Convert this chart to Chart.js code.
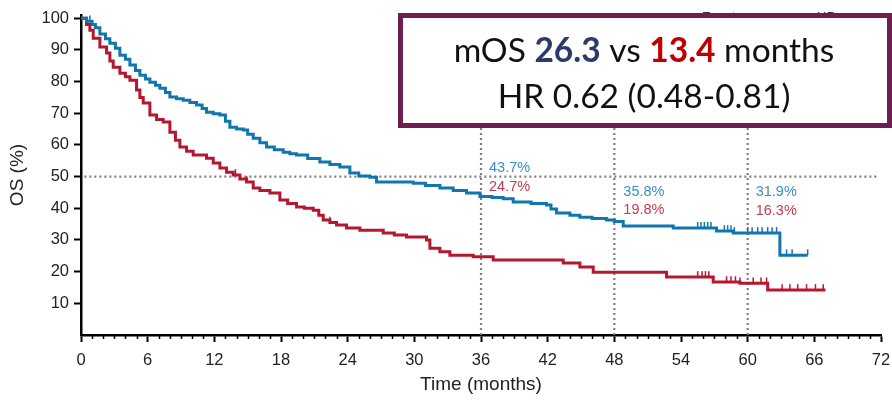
<!DOCTYPE html>
<html>
<head>
<meta charset="utf-8">
<script src="https://cdn.jsdelivr.net/npm/chart.js@4/dist/chart.umd.min.js"></script>
<style>
  html, body { margin: 0; padding: 0; background: #fff; }
  #wrap { width: 892px; height: 402px; position: relative; }
</style>
</head>
<body>
<div id="wrap"><canvas id="c" width="892" height="402"></canvas></div>
<script>
// ---- Data ----
const blueTimes = [0,0.5,1,1.3,1.7,2.2,2.6,3.1,3.5,4,4.4,4.9,5.3,5.8,6.2,6.7,7.1,7.6,8,8.6,9.2,9.8,10.4,10.9,11.3,11.9,12.5,13,13.4,14,14.6,15,15.5,16.1,16.7,17.4,18.2,18.8,19.4,20.4,21.5,22.4,23.3,24.2,25,26,26.6,29.9,31,32.3,33.5,34.7,35.9,37,38,38.9,40.5,41.9,42.3,42.8,44,44.9,46,47.3,48,48.8,53.3,57.2,58.7,62.9,65.4];
const blueSurv  = [100,99,98,97,95,93.5,92.1,90.5,88.3,87,85.2,83.5,82,80.8,79.8,78.8,77.9,76.5,75.1,74.6,74.1,73.4,72.6,71.5,70.3,69.8,69.4,67.5,65.6,65,64.7,63.4,62.1,60.7,59.3,58.5,57.7,57.2,56.8,55.7,54.6,53.8,53,51.1,50.2,49.8,48.3,47.9,47.2,46.4,45.6,44.8,43.7,43.4,43,42,41.5,41,39.8,38.5,37.8,37.2,36.8,36.3,35.8,34.4,33.8,32.8,32.2,25.2,25.2];
const redTimes  = [0,0.5,0.8,1.1,1.7,2.3,2.6,2.9,3.5,4,4.4,5,5.3,5.6,6.2,6.8,7.4,8,8.5,8.9,9.5,10.1,11.3,11.9,12.5,13.1,13.7,14.3,14.9,15.5,16.1,17,17.9,18.6,19.4,20.1,20.9,21.4,21.8,22.4,23,23.9,25.1,27.2,28.2,29.3,31.1,31.4,32.3,33.2,35.3,37.1,43.4,44.9,46.1,52.7,56.9,59.3,61.8,67];
const redSurv   = [100,98,96.2,93.7,90.9,89,86.5,84.5,82.6,81.5,80.4,77.3,75,73.2,69.4,68,67.2,64,61.5,59.3,58,56.8,55.8,54.3,52.7,51.4,50.5,49.2,48.3,46.4,45.6,44.8,42.6,41.5,40.4,40,39.4,37.8,36.3,35.5,34.7,33.8,33.1,32.2,31.6,30.9,30,27.4,26.3,25.2,24.7,23.7,22.7,21.5,19.8,18.3,16.7,16.3,14.2,14.2];
const blueCensorTimes = [0.8,1.7,55.5,55.8,56.1,56.4,56.7,57.9,58.2,58.5,58.8,60,60.4,60.9,61.3,61.8,62.2,62.6,63.5,64,65.4];
const redCensorTimes  = [8.9,13.9,14.9,22.4,55.5,55.9,56.2,56.5,56.9,58.1,58.5,58.9,59.3,60.5,61.2,61.7,63.1,63.8,64.5,65.3,66.1,66.8];
const landmarkMonths = [36,48,60];
const blueLandmarkLabels = ['43.7%','35.8%','31.9%'];
const redLandmarkLabels  = ['24.7%','19.8%','16.3%'];
const xTickValues = [0,6,12,18,24,30,36,42,48,54,60,66,72];
const yTickValues = [10,20,30,40,50,60,70,80,90,100];
const medianLine = 50;
const boxLine1 = [['mOS ', '#111', 'normal'], ['26.3', '#2c3a6a', 'bold'], [' vs ', '#111', 'normal'], ['13.4', '#c00000', 'bold'], [' months', '#111', 'normal']];
const boxLine2 = 'HR 0.62 (0.48-0.81)';

// ---- helpers ----
function survAt(times, surv, t) {
  let v = surv[0];
  for (let i = 0; i < times.length; i++) { if (times[i] <= t) v = surv[i]; }
  return v;
}
const BLUE = '#1076ad', RED = '#b3182f';
const BLUE_TXT = '#3d8fc6', RED_TXT = '#c23b4e';
const FONT = '"Liberation Sans Narrow", "Liberation Sans", Arial, sans-serif';

const refLines = {
  id: 'refLines',
  beforeDatasetsDraw(chart) {
    const {ctx, scales: {x, y}} = chart;
    ctx.save();
    ctx.strokeStyle = '#7f7f7f';
    ctx.lineWidth = 2.2;
    ctx.setLineDash([2, 3]);
    ctx.beginPath();
    ctx.moveTo(x.getPixelForValue(0.3), y.getPixelForValue(medianLine));
    ctx.lineTo(x.getPixelForValue(71.6), y.getPixelForValue(medianLine));
    landmarkMonths.forEach(m => {
      ctx.moveTo(x.getPixelForValue(m), y.getPixelForValue(0));
      ctx.lineTo(x.getPixelForValue(m), y.getPixelForValue(100));
    });
    ctx.stroke();
    ctx.restore();
  },
  afterDraw(chart) {
    const {ctx, scales: {x, y}} = chart;
    ctx.save();
    // minor x ticks
    ctx.strokeStyle = '#000';
    ctx.lineWidth = 1.5;
    ctx.beginPath();
    for (let m = 1; m < 72; m++) {
      if (m % 6 === 0) continue;
      const px = Math.round(x.getPixelForValue(m)) + 0.5;
      ctx.moveTo(px, y.bottom);
      ctx.lineTo(px, y.bottom + 4);
    }
    ctx.stroke();
    // landmark labels
    ctx.font = '14.5px ' + FONT;
    ctx.textBaseline = 'middle';
    ctx.textAlign = 'left';
    const bOff = [[8, 168], [9, 192], [8, 192]];
    const rOff = [[8, 187], [9, 210], [8, 211]];
    landmarkMonths.forEach((m, i) => {
      const px = x.getPixelForValue(m);
      ctx.fillStyle = BLUE_TXT;
      ctx.fillText(blueLandmarkLabels[i], px + bOff[i][0], bOff[i][1]);
      ctx.fillStyle = RED_TXT;
      ctx.fillText(redLandmarkLabels[i], px + rOff[i][0], rOff[i][1]);
    });
    // partially hidden header text behind box
    ctx.fillStyle = '#333';
    ctx.font = '13px ' + FONT;
    ctx.textBaseline = 'alphabetic';
    ctx.fillText('Events', 702, 21);
    ctx.fillText('HR', 817, 21);
    // box
    ctx.fillStyle = '#fff';
    ctx.strokeStyle = '#6c1f50';
    ctx.lineWidth = 5;
    ctx.setLineDash([]);
    ctx.beginPath();
    ctx.rect(400.5, 15.5, 489, 110);
    ctx.fill();
    ctx.stroke();
    // box text
    const bf = (w) => (w === 'bold' ? 'bold ' : '') + '33.5px Lato, "Open Sans", sans-serif';
    let total = 0;
    boxLine1.forEach(s => { ctx.font = bf(s[2]); total += ctx.measureText(s[0]).width; });
    let cx = 644 - total / 2;
    ctx.textBaseline = 'middle';
    boxLine1.forEach(s => {
      ctx.font = bf(s[2]);
      ctx.fillStyle = s[1];
      ctx.fillText(s[0], cx, 51);
      cx += ctx.measureText(s[0]).width;
    });
    ctx.font = bf('normal');
    ctx.fillStyle = '#111';
    ctx.textAlign = 'center';
    ctx.fillText(boxLine2, 644, 97);
    ctx.restore();
  }
};

new Chart(document.getElementById('c'), {
  type: 'line',
  data: {
    datasets: [
      { data: blueTimes.map((t, i) => ({x: t, y: blueSurv[i]})), borderColor: BLUE, borderWidth: 3, stepped: 'before', pointRadius: 0, fill: false },
      { data: redTimes.map((t, i) => ({x: t, y: redSurv[i]})), borderColor: RED, borderWidth: 3, stepped: 'before', pointRadius: 0, fill: false },
      { type: 'scatter', data: blueCensorTimes.map(t => ({x: t, y: survAt(blueTimes, blueSurv, t) + 0.9})), pointStyle: 'line', rotation: 90, pointRadius: 3, borderColor: BLUE, borderWidth: 1.5, showLine: false },
      { type: 'scatter', data: redCensorTimes.map(t => ({x: t, y: survAt(redTimes, redSurv, t) + 0.9})), pointStyle: 'line', rotation: 90, pointRadius: 3, borderColor: RED, borderWidth: 1.5, showLine: false }
    ]
  },
  options: {
    responsive: false,
    animation: false,
    events: [],
    layout: { padding: { top: 15, right: 11, left: 0, bottom: 0 } },
    plugins: { legend: { display: false }, tooltip: { enabled: false } },
    scales: {
      x: {
        type: 'linear', min: 0, max: 72,
        afterBuildTicks: s => { s.ticks = xTickValues.map(v => ({value: v})); },
        afterFit: s => { s.height = 67; s.paddingLeft = 0; s.paddingRight = 0; },
        ticks: { color: '#222', font: { family: FONT, size: 16.5 }, padding: 9, maxRotation: 0, autoSkip: false },
        grid: { drawOnChartArea: false, drawTicks: true, tickLength: 7, tickColor: '#000', tickWidth: 2 },
        border: { display: true, color: '#000', width: 2.5 },
        title: { display: true, text: 'Time (months)', color: '#222', font: { family: FONT, size: 19 }, padding: { top: 0, bottom: 6 } }
      },
      y: {
        type: 'linear', min: 0, max: 101,
        afterBuildTicks: s => { s.ticks = yTickValues.map(v => ({value: v})); },
        afterFit: s => { s.width = 81; s.paddingTop = 0; s.paddingBottom = 0; },
        ticks: { color: '#222', font: { family: FONT, size: 16.5 }, padding: 5 },
        grid: { drawOnChartArea: false, drawTicks: true, tickLength: 7, tickColor: '#000', tickWidth: 2 },
        border: { display: true, color: '#000', width: 2.5 },
        title: { display: true, text: 'OS (%)', color: '#222', font: { family: FONT, size: 19 }, padding: { top: 6, bottom: 4 } }
      }
    }
  },
  plugins: [refLines]
});
</script>
</body>
</html>
